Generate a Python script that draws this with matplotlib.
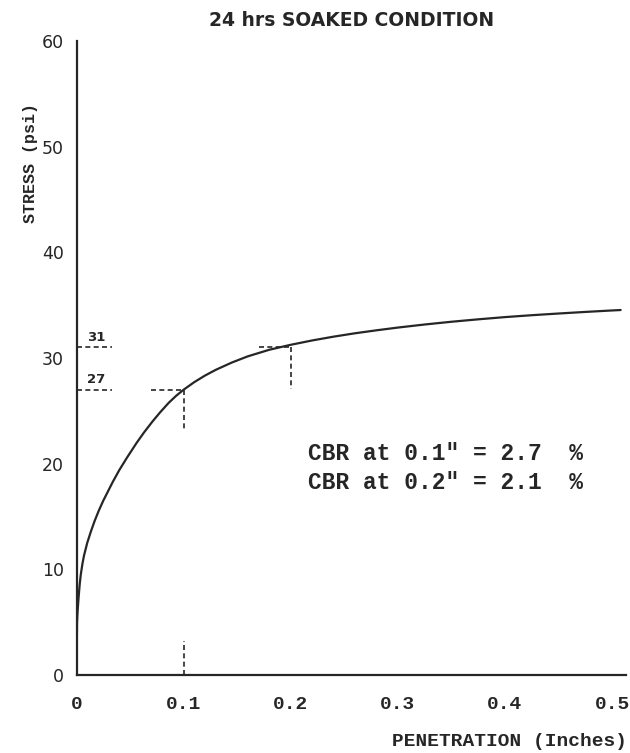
import numpy as np
import matplotlib
matplotlib.use("Agg")
import matplotlib.pyplot as plt
from matplotlib.ticker import FixedLocator

# penetration (in) vs stress (psi)
penetration = [0, 0.0005, 0.001, 0.002, 0.003, 0.004, 0.0055, 0.007, 0.01,
               0.0135, 0.017, 0.021, 0.025, 0.029, 0.034, 0.04, 0.047, 0.056,
               0.063, 0.071, 0.078, 0.086, 0.093, 0.1, 0.11, 0.12, 0.13,
               0.145, 0.16, 0.18, 0.2, 0.22, 0.24, 0.26, 0.28, 0.3,
               0.325, 0.35, 0.375, 0.4, 0.425, 0.45, 0.475, 0.5, 0.508]
stress = [0, 5.0, 6.0, 7.4, 8.6, 9.5, 10.5, 11.3, 12.5,
          13.6, 14.6, 15.6, 16.5, 17.3, 18.3, 19.4, 20.55, 21.95,
          22.95, 24.0, 24.85, 25.75, 26.42, 27.0, 27.72, 28.34, 28.88,
          29.57, 30.16, 30.78, 31.25, 31.66, 32.02, 32.34, 32.62, 32.88,
          33.17, 33.43, 33.66, 33.87, 34.05, 34.21, 34.36, 34.5, 34.54]

# values picked off at 0.1" and 0.2"
pick_pen = [0.1, 0.2]
pick_stress = [27, 31]
cbr_text = ['CBR at 0.1" = 2.7  %', 'CBR at 0.2" = 2.1  %']

xticks = [0, 0.1, 0.2, 0.3, 0.4, 0.5]
xlabels = ['0', '0.1', '0.2', '0.3', '0.4', '0.5']
yticks = [0, 10, 20, 30, 40, 50, 60]

ink = '#262626'
mono = 'Liberation Mono'
sans = 'DejaVu Sans'

fig = plt.figure(figsize=(6.3, 7.53), dpi=100)
ax = fig.add_axes([76.5/630, 78/753, 549.5/630, 634/753])

ax.plot(penetration, stress, color=ink, lw=1.6, solid_capstyle='round',
        solid_joinstyle='round')

dash = (0, (3, 2))
for p, s in zip(pick_pen, pick_stress):
    # short marker on the stress axis with the value above it
    ax.plot([0, 0.033], [s, s], color=ink, lw=1.2, ls=dash)
    ax.text(0.018, s + 0.35, str(s), fontsize=9.5, fontweight='bold',
            family=sans, color=ink, ha='center', va='bottom')
    # dashed cross at the picked point
    ax.plot([p - 0.03, p], [s, s], color=ink, lw=1.2, ls=dash)
    ax.plot([p, p], [s, s - 3.9], color=ink, lw=1.2, ls=dash)

# dashed stub at 0.1 on the penetration axis
ax.plot([0.1, 0.1], [0, 3.2], color=ink, lw=1.2, ls=dash)

ax.set_xlim(0, 0.513)
ax.set_ylim(0, 60)

for s in ['top', 'right']:
    ax.spines[s].set_visible(False)
for s in ['left', 'bottom']:
    ax.spines[s].set_color(ink)
    ax.spines[s].set_linewidth(1.6)

ax.set_xticks(xticks)
ax.set_xticklabels(xlabels, family=mono, fontweight='bold', fontsize=14, color=ink)
ax.set_yticks(yticks)
ax.set_yticklabels([str(v) for v in yticks], family=sans, fontsize=12.5, color=ink)
ax.tick_params(axis='x', which='major', length=0, pad=15)
ax.tick_params(axis='y', which='major', length=0, pad=9)

ax.xaxis.set_minor_locator(FixedLocator([0.2, 0.3, 0.4]))
ax.yaxis.set_minor_locator(FixedLocator([10, 20, 30, 40, 50]))
ax.tick_params(which='minor', direction='in', length=7, width=1.3, color=ink)

for i, t in enumerate(cbr_text):
    ax.text(0.216, 21.0 - 2.8*i, t, family=mono, fontweight='bold',
            fontsize=16.5, color=ink, ha='left', va='center')

fig.text(352/630, 1 - 20/753, '24 hrs SOAKED CONDITION', family=sans,
         fontweight='bold', fontsize=13.5, color=ink, ha='center', va='center')
fig.text(30/630, 1 - 163/753, 'STRESS (psi)', family=mono, fontweight='bold',
         fontsize=12, color=ink, rotation=90, ha='center', va='center')
fig.text(627/630, 1 - 742/753, 'PENETRATION (Inches)', family=mono,
         fontweight='bold', fontsize=14, color=ink, ha='right', va='center')

fig.savefig('out.png', dpi=100, facecolor='white')
